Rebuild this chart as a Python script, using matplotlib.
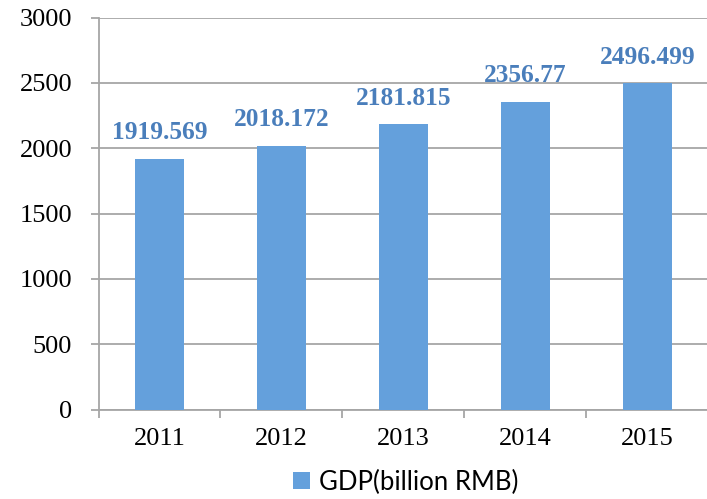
import matplotlib
matplotlib.use("Agg")
import matplotlib.pyplot as plt

years = ["2011", "2012", "2013", "2014", "2015"]
gdp = [1919.569, 2018.172, 2181.815, 2356.77, 2496.499]
value_labels = ["1919.569", "2018.172", "2181.815", "2356.77", "2496.499"]
yticks = [0, 500, 1000, 1500, 2000, 2500, 3000]
legend_label = "GDP(billion RMB)"

W, H = 707, 499
fig = plt.figure(figsize=(W / 100, H / 100), dpi=100)
ax = fig.add_axes([98.5 / W, (H - 409.5) / H, (W - 98.5) / W + 0.002, (409.5 - 17.5) / H])

grid_c = "#A6A6A6"
bar_c = "#64A0DC"
lab_c = "#4A7EBB"

x = list(range(len(years)))
bars = ax.bar(x, gdp, width=0.4, color=bar_c, zorder=3, label=legend_label)
ax.set_xlim(-0.5, len(years) - 0.5)
ax.set_ylim(0, 3000)
ax.set_yticks(yticks)
ax.set_yticklabels([str(v) for v in yticks], fontsize=19, family="Liberation Serif")
ax.yaxis.grid(True, color=grid_c, linewidth=1.3, zorder=0)
ax.set_axisbelow(True)

ax.set_xticks([i + 0.5 for i in range(-1, len(years))], minor=False)
ax.set_xticklabels([])
ax.set_xticks(x, minor=True)
ax.set_xticklabels(years, minor=True, fontsize=19, family="Liberation Serif")
ax.tick_params(axis="x", which="major", length=6, color=grid_c, width=1.3, direction="out")
ax.tick_params(axis="x", which="minor", length=0, pad=13)
ax.tick_params(axis="y", length=6, color=grid_c, width=1.3, pad=13)

for s in ["top", "right"]:
    ax.spines[s].set_visible(False)
for s in ["left", "bottom"]:
    ax.spines[s].set_color(grid_c)
    ax.spines[s].set_linewidth(1.3)

for xi, v, t in zip(x, gdp, value_labels):
    ax.annotate(t, (xi, v), xytext=(0, 14), textcoords="offset points",
                ha="center", va="baseline", fontsize=18.3, fontweight="bold",
                color=lab_c, family="Liberation Serif")

leg = fig.legend(handles=[bars], labels=[legend_label], loc="center",
                 bbox_to_anchor=(406 / W, (H - 482) / H), frameon=False,
                 prop={"family": "Lato", "size": 18.5},
                 handlelength=0.65, handleheight=0.65, handletextpad=0.35,
                 borderpad=0, borderaxespad=0)

fig.savefig("out.png", dpi=100)
